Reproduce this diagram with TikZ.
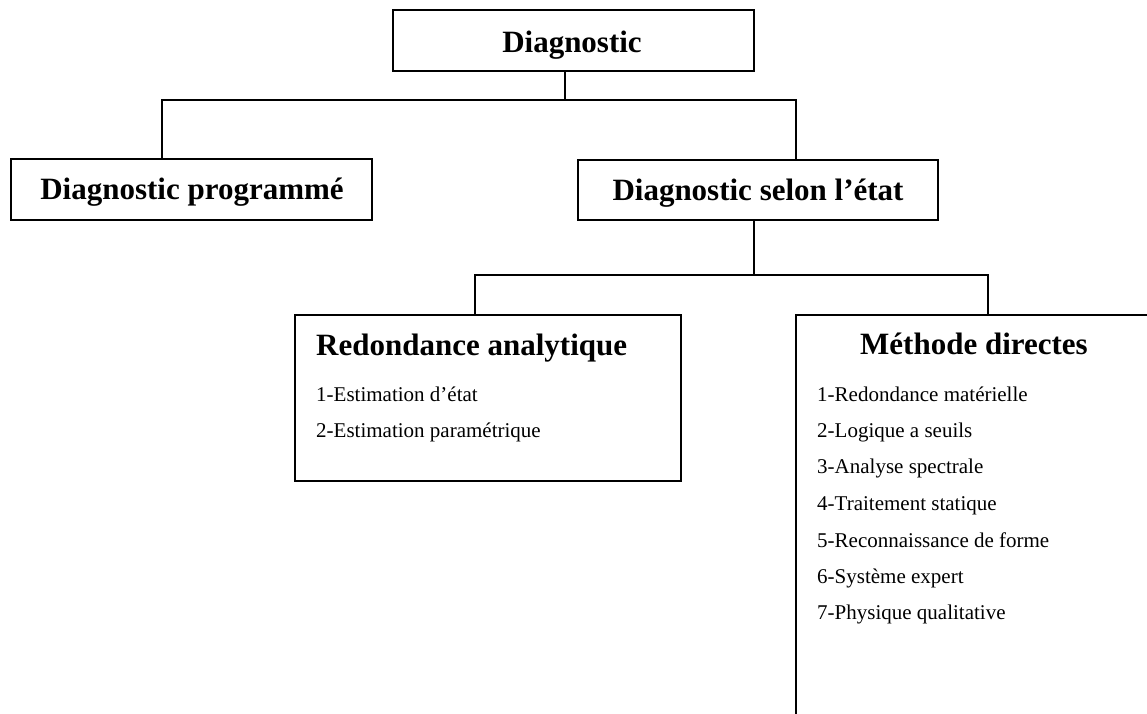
\documentclass[tikz,border=0pt]{standalone}
\usepackage{fontspec}
\setmainfont{Liberation Serif}
\tikzset{
  box/.style={draw=black, line width=1.6pt, rectangle, inner sep=0pt},
  conn/.style={draw=black, line width=1.6pt},
  title/.style={font=\bfseries\fontsize{31}{31}\selectfont, inner sep=0pt},
  item/.style={font=\fontsize{21}{21}\selectfont, inner sep=0pt, anchor=base west},
}
\begin{document}
\begin{tikzpicture}[x=1pt,y=-1pt]
\useasboundingbox (0,0) rectangle (1147,713);
\clip (0,0) rectangle (1147,713);
\fill[white] (0,0) rectangle (1147,713);
% boxes
\node[box, minimum width=361pt, minimum height=61pt] (top) at (573.5,40.5) {};
\node[box, minimum width=361pt, minimum height=61pt] (left) at (191.5,189.5) {};
\node[box, minimum width=360pt, minimum height=60pt] (right) at (758,190) {};
\node[box, minimum width=386pt, minimum height=166pt] (redo) at (488,398) {};
\node[box, minimum width=361pt, minimum height=420pt] (meth) at (976.5,525) {};
% titles
\node[title, anchor=base] (ttop) at (572,52) {Diagnostic};
\node[title, anchor=base] (tleft) at (192,199) {Diagnostic programmé};
\node[title, anchor=base] (tright) at (758,200) {Diagnostic selon l’état};
\node[title, anchor=base west] (tredo) at (316,355) {Redondance analytique};
\node[title, anchor=base west] (tmeth) at (860,354) {Méthode directes};
% items
\node[item] (r1) at (316,401) {1-Estimation d’état};
\node[item] (r2) at (316,437) {2-Estimation paramétrique};
\node[item] (m1) at (817,401) {1-Redondance matérielle};
\node[item] (m2) at (817,437) {2-Logique a seuils};
\node[item] (m3) at (817,473) {3-Analyse spectrale};
\node[item] (m4) at (817,510) {4-Traitement statique};
\node[item] (m5) at (817,547) {5-Reconnaissance de forme};
\node[item] (m6) at (817,583) {6-Système expert};
\node[item] (m7) at (817,619) {7-Physique qualitative};
% connectors
\coordinate (j1) at (565,100);
\coordinate (a1) at (162,100);
\coordinate (a2) at (796,100);
\draw[conn] (top.south -| j1) -- (j1);
\draw[conn] (a1 |- left.north) -- (a1) -- (a2) -- (a2 |- right.north);
\coordinate (j2) at (754,275);
\coordinate (b1) at (475,275);
\coordinate (b2) at (988,275);
\draw[conn] (right.south -| j2) -- (j2);
\draw[conn] (b1 |- redo.north) -- (b1) -- (b2) -- (b2 |- meth.north);
\end{tikzpicture}
\end{document}
